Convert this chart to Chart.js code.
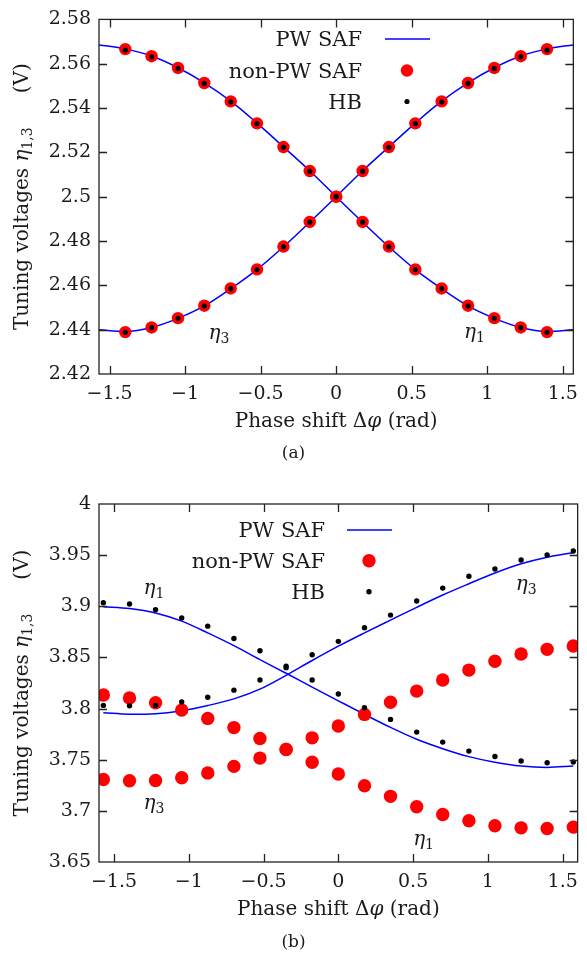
<!DOCTYPE html>
<html lang="en">
<head>
<meta charset="UTF-8" />
<title>Tuning voltages vs phase shift</title>
<script src="https://cdn.jsdelivr.net/npm/chart.js"></script>
<style>
  body { margin: 0; background: #fff; width: 587px; height: 957px; position: relative; overflow: hidden;
         font-family: "DejaVu Serif", serif; color: #1a1a1a; }
  .panel { position: absolute; left: 0; width: 587px; }
  #panelA { top: 0; height: 470px; }
  #panelB { top: 470px; height: 487px; }
  canvas { display: block; }
  .cap { position: absolute; left: 0; width: 587px; text-align: center; font-size: 17px; line-height: 22px; }
</style>
</head>
<body>

<div class="panel" id="panelA"><canvas id="chartA" width="587" height="470"></canvas></div>
<div class="panel" id="panelB"><canvas id="chartB" width="587" height="487"></canvas></div>
<div class="cap" style="top:441px">(a)</div>
<div class="cap" style="top:930px">(b)</div>

<script>
// phase shift samples (rad)
const phaseFull = [-1.571, -1.396, -1.222, -1.047, -0.873, -0.698, -0.524, -0.349, -0.175, 0,
                   0.175, 0.349, 0.524, 0.698, 0.873, 1.047, 1.222, 1.396, 1.571];
const phaseInner = [-1.396, -1.222, -1.047, -0.873, -0.698, -0.524, -0.349, -0.175, 0,
                    0.175, 0.349, 0.524, 0.698, 0.873, 1.047, 1.222, 1.396];

// (a) tuning voltages
const pwA_eta1  = [2.5685, 2.5667, 2.5635, 2.5582, 2.5514, 2.5431, 2.5332, 2.5225, 2.5117, 2.5000,
                   2.4885, 2.4774, 2.4671, 2.4585, 2.4507, 2.4451, 2.4410, 2.4392, 2.4400];
const pwA_eta3  = [2.4400, 2.4392, 2.4410, 2.4451, 2.4507, 2.4585, 2.4671, 2.4774, 2.4885, 2.5000,
                   2.5117, 2.5225, 2.5332, 2.5431, 2.5514, 2.5582, 2.5635, 2.5667, 2.5685];
const safA_eta1 = [2.5666, 2.5634, 2.5581, 2.5513, 2.5430, 2.5331, 2.5224, 2.5116, 2.5000,
                   2.4886, 2.4775, 2.4672, 2.4586, 2.4508, 2.4452, 2.4410, 2.4389];
const safA_eta3 = [2.4389, 2.4410, 2.4452, 2.4508, 2.4586, 2.4672, 2.4775, 2.4886, 2.5000,
                   2.5116, 2.5224, 2.5331, 2.5430, 2.5513, 2.5581, 2.5634, 2.5666];
const hbA_eta1  = [2.5662, 2.5631, 2.5579, 2.5511, 2.5428, 2.5330, 2.5223, 2.5115, 2.5000,
                   2.4885, 2.4774, 2.4671, 2.4585, 2.4507, 2.4451, 2.4409, 2.4388];
const hbA_eta3  = [2.4388, 2.4409, 2.4451, 2.4507, 2.4585, 2.4671, 2.4774, 2.4885, 2.5000,
                   2.5115, 2.5223, 2.5330, 2.5428, 2.5511, 2.5579, 2.5631, 2.5662];

// (b) tuning voltages
const pwB_eta1  = [3.8996, 3.8978, 3.8935, 3.8855, 3.8740, 3.8615, 3.8478, 3.8345, 3.8210, 3.8076,
                   3.7943, 3.7816, 3.7700, 3.7608, 3.7530, 3.7475, 3.7438, 3.7425, 3.7438];
const pwB_eta3  = [3.7959, 3.7945, 3.7950, 3.7979, 3.8030, 3.8095, 3.8190, 3.8325, 3.8470, 3.8610,
                   3.8740, 3.8865, 3.8990, 3.9110, 3.9220, 3.9325, 3.9415, 3.9480, 3.9524];
const safB_eta1 = [3.8132, 3.8103, 3.8057, 3.7985, 3.7904, 3.7814, 3.7707, 3.7600, 3.7475, 3.7360,
                   3.7245, 3.7142, 3.7040, 3.6965, 3.6903, 3.6854, 3.6834, 3.6828, 3.6841];
const safB_eta3 = [3.7307, 3.7294, 3.7297, 3.7323, 3.7371, 3.7435, 3.7516, 3.7601, 3.7714, 3.7830,
                   3.7943, 3.8062, 3.8171, 3.8279, 3.8376, 3.8462, 3.8533, 3.8579, 3.8611];
const hbB_eta1  = [3.9035, 3.9022, 3.8967, 3.8885, 3.8806, 3.8685, 3.8565, 3.8415, 3.8279, 3.8142,
                   3.8008, 3.7894, 3.7770, 3.7672, 3.7584, 3.7532, 3.7487, 3.7470, 3.7477];
const hbB_eta3  = [3.8031, 3.8027, 3.8031, 3.8064, 3.8110, 3.8180, 3.8279, 3.8400, 3.8526, 3.8657,
                   3.8790, 3.8914, 3.9051, 3.9178, 3.9293, 3.9364, 3.9452, 3.9501, 3.9540];

// tick values
const xTicks  = [-1.5, -1, -0.5, 0, 0.5, 1, 1.5];
const yTicksA = [2.42, 2.44, 2.46, 2.48, 2.5, 2.52, 2.54, 2.56, 2.58];
const yTicksB = [3.65, 3.7, 3.75, 3.8, 3.85, 3.9, 3.95, 4];

const legendNames = ['PW SAF', 'non-PW SAF', 'HB'];

const FAM = '"DejaVu Serif", serif';
const INK = '#1a1a1a';

function pts(xs, ys) { return xs.map((x, i) => ({ x: x, y: ys[i] })); }
function fmt(v) { return String(v).replace('-', '\u2212'); }

function fontOf(style, size) {
  return (style === 'i' ? 'italic ' : '') + size + 'px ' + FAM;
}

// parts: [text, style] where style '' | 'i' | 's' (subscript); or {gap: px}
function richWidth(ctx, parts, size) {
  let w = 0;
  for (const p of parts) {
    if (p.gap) { w += p.gap; continue; }
    ctx.font = fontOf(p[1], p[1] === 's' ? Math.round(size * 0.7) : size);
    w += ctx.measureText(p[0]).width;
  }
  return w;
}
function drawRich(ctx, parts, x, y, size, align) {
  const w = richWidth(ctx, parts, size);
  let cx = align === 'center' ? x - w / 2 : (align === 'right' ? x - w : x);
  ctx.textBaseline = 'alphabetic';
  ctx.textAlign = 'left';
  ctx.fillStyle = INK;
  for (const p of parts) {
    if (p.gap) { cx += p.gap; continue; }
    const sub = p[1] === 's';
    ctx.font = fontOf(p[1], sub ? Math.round(size * 0.7) : size);
    ctx.fillText(p[0], cx, y + (sub ? size * 0.22 : 0));
    cx += ctx.measureText(p[0]).width;
  }
}

const decor = {
  id: 'decor',
  afterDraw(chart, args, o) {
    const { ctx, chartArea: a, scales: { x, y } } = chart;
    ctx.save();
    // frame
    ctx.strokeStyle = '#222';
    ctx.lineWidth = 1.3;
    ctx.strokeRect(a.left, a.top, a.right - a.left, a.bottom - a.top);
    // inward ticks on all four sides
    const tl = 8;
    ctx.beginPath();
    for (const v of o.xTicks) {
      const px = Math.round(x.getPixelForValue(v)) + 0.5;
      ctx.moveTo(px, a.bottom); ctx.lineTo(px, a.bottom - tl);
      ctx.moveTo(px, a.top); ctx.lineTo(px, a.top + tl);
    }
    for (const v of o.yTicks) {
      const py = Math.round(y.getPixelForValue(v)) + 0.5;
      if (py < a.top + 2 || py > a.bottom - 2) continue;
      ctx.moveTo(a.left, py); ctx.lineTo(a.left + tl, py);
      ctx.moveTo(a.right, py); ctx.lineTo(a.right - tl, py);
    }
    ctx.stroke();

    const fs = 20;
    // y title (rotated)
    ctx.save();
    ctx.translate(28, (a.top + a.bottom) / 2);
    ctx.rotate(-Math.PI / 2);
    drawRich(ctx, [['Tuning voltages ', ''], ['\u03B7', 'i'], ['1,3', 's'], { gap: 34 }, ['(V)', '']], 0, 0, fs, 'center');
    ctx.restore();
    // x title
    drawRich(ctx, [['Phase shift \u0394', ''], ['\u03C6', 'i'], [' (rad)', '']],
      (a.left + a.right) / 2, a.bottom + 53, fs, 'center');

    // curve labels
    for (const l of o.labels) {
      drawRich(ctx, [['\u03B7', 'i'], [l.sub, 's']],
        x.getPixelForValue(l.x), y.getPixelForValue(l.y) + 6, 20, 'center');
    }

    // legend
    const L = o.legend;
    const dsLine = chart.data.datasets[4], dsSaf = chart.data.datasets[2], dsHb = chart.data.datasets[0];
    for (let i = 0; i < 3; i++) {
      drawRich(ctx, [[legendNames[i], '']], L.textRight, L.rows[i] + 7, 21, 'right');
    }
    ctx.strokeStyle = dsLine.borderColor;
    ctx.lineWidth = dsLine.borderWidth;
    ctx.beginPath();
    ctx.moveTo(L.sym - 22, L.rows[0]); ctx.lineTo(L.sym + 23, L.rows[0]);
    ctx.stroke();
    ctx.fillStyle = dsSaf.backgroundColor;
    ctx.beginPath(); ctx.arc(L.sym, L.rows[1], dsSaf.pointRadius, 0, Math.PI * 2); ctx.fill();
    ctx.fillStyle = dsHb.backgroundColor;
    ctx.beginPath(); ctx.arc(L.sym, L.rows[2], dsHb.pointRadius, 0, Math.PI * 2); ctx.fill();
    ctx.restore();
  }
};

function makeChart(id, cfg) {
  const dots = (data, color, r) => ({
    data: data, showLine: false, pointRadius: r, pointHoverRadius: r,
    backgroundColor: color, borderWidth: 0, pointBorderWidth: 0
  });
  const line = data => ({
    data: data, showLine: true, pointRadius: 0, borderColor: '#0000ff', borderWidth: 1.5,
    cubicInterpolationMode: 'monotone', fill: false
  });
  return new Chart(document.getElementById(id).getContext('2d'), {
    type: 'scatter',
    data: {
      datasets: [
        dots(cfg.hb1, '#000000', cfg.rHb),
        dots(cfg.hb3, '#000000', cfg.rHb),
        dots(cfg.saf1, '#ff0000', cfg.rSaf),
        dots(cfg.saf3, '#ff0000', cfg.rSaf),
        line(cfg.pw1),
        line(cfg.pw3)
      ]
    },
    options: {
      responsive: false,
      animation: false,
      devicePixelRatio: 1,
      layout: { padding: { left: 0, right: 5, top: cfg.top, bottom: 0 } },
      plugins: {
        legend: { display: false },
        tooltip: { enabled: false },
        decor: { xTicks: xTicks, yTicks: cfg.yTicks, labels: cfg.labels, legend: cfg.legend }
      },
      scales: {
        x: {
          type: 'linear', min: cfg.xMin, max: cfg.xMax,
          afterBuildTicks: s => { s.ticks = xTicks.map(v => ({ value: v })); },
          afterFit: s => { s.height = cfg.xHeight; },
          grid: { display: false, drawTicks: false },
          border: { display: false },
          ticks: { padding: 9, color: INK, font: { family: FAM, size: 19 }, maxRotation: 0,
                   callback: v => fmt(v) }
        },
        y: {
          type: 'linear', min: cfg.yMin, max: cfg.yMax,
          afterBuildTicks: s => { s.ticks = cfg.yTicks.map(v => ({ value: v })); },
          afterFit: s => { s.width = 99; },
          grid: { display: false, drawTicks: false },
          border: { display: false },
          ticks: { padding: 8, color: INK, font: { family: FAM, size: 19 },
                   callback: v => fmt(v) }
        }
      }
    },
    plugins: [decor]
  });
}

makeChart('chartA', {
  pw1: pts(phaseFull, pwA_eta1), pw3: pts(phaseFull, pwA_eta3),
  saf1: pts(phaseInner, safA_eta1), saf3: pts(phaseInner, safA_eta3),
  hb1: pts(phaseInner, hbA_eta1), hb3: pts(phaseInner, hbA_eta3),
  rSaf: 6.2, rHb: 2.6,
  xMin: -1.57, xMax: 1.57, yMin: 2.42, yMax: 2.58, yTicks: yTicksA,
  top: 16, xHeight: 96,
  labels: [{ x: -0.776, y: 2.4386, sub: '3' }, { x: 0.916, y: 2.4391, sub: '1' }],
  legend: { textRight: 362, sym: 407, rows: [39, 70.5, 101.5] }
});

makeChart('chartB', {
  pw1: pts(phaseFull, pwB_eta1), pw3: pts(phaseFull, pwB_eta3),
  saf1: pts(phaseFull, safB_eta1), saf3: pts(phaseFull, safB_eta3),
  hb1: pts(phaseFull, hbB_eta1), hb3: pts(phaseFull, hbB_eta3),
  rSaf: 6.7, rHb: 2.7,
  xMin: -1.6, xMax: 1.6, yMin: 3.65, yMax: 4, yTicks: yTicksB,
  top: 34, xHeight: 95,
  labels: [{ x: -1.232, y: 3.9178, sub: '1' }, { x: -1.232, y: 3.7076, sub: '3' },
           { x: 1.256, y: 3.9218, sub: '3' }, { x: 0.57, y: 3.6724, sub: '1' }],
  legend: { textRight: 325, sym: 369, rows: [60, 90.7, 121.7] }
});
</script>

</body>
</html>
